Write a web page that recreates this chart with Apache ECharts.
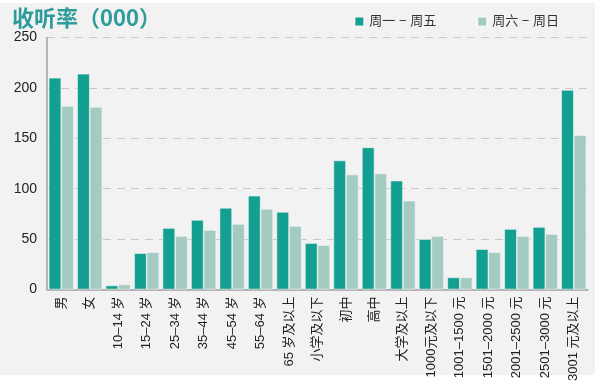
<!DOCTYPE html>
<html><head><meta charset="utf-8">
<script src="https://cdn.jsdelivr.net/npm/echarts@6/dist/echarts.min.js"></script>
<style>
html,body{margin:0;padding:0;background:#fff;}
#bg{position:absolute;left:0;top:3px;width:595px;height:372px;background:#f2f2f2;}
#c{position:absolute;left:0;top:0;width:600px;height:384px;}
</style></head>
<body><div id="bg"></div><div id="c"></div>
<script>
const categories = ['男','女','10–14 岁','15–24 岁','25–34 岁','35–44 岁','45–54 岁','55–64 岁','65 岁及以上','小学及以下','初中','高中','大学及以上','1000元及以下','1001–1500 元','1501–2000 元','2001–2500 元','2501–3000 元','3001 元及以上'];
const weekday = [210,214,4,36,61,69,81,93,77,46,128,141,108,50,12,40,60,62,198];
const weekend = [182,181,5,37,53,59,65,80,63,44,114,115,88,53,12,37,53,55,153];
const yTicks = [0,50,100,150,200,250];
const seriesNames = ['周一 − 周五','周六 − 周日'];

const chart = echarts.init(document.getElementById('c'), null, {renderer:'canvas'});
chart.setOption({
  animation:false,
  backgroundColor:'transparent',
  title:{text:'收听率（000）',left:7,top:2,textStyle:{color:'#2f9c9c',fontSize:22,fontWeight:'bold',fontFamily:'Noto Sans CJK SC'}},
  legend:{top:10,right:36,itemWidth:10,itemHeight:10,itemGap:40,icon:'rect',
    textStyle:{fontSize:13,color:'#333',fontFamily:'Liberation Sans, Noto Sans CJK SC'},data:seriesNames},
  grid:{left:47,right:12,top:37.5,bottom:94,containLabel:false},
  xAxis:{type:'category',data:categories,
    axisLine:{lineStyle:{color:'#a0a0a0',width:1.5}},axisTick:{show:false},
    axisLabel:{rotate:90,interval:0,margin:7,fontSize:13,color:'#222',fontFamily:'Liberation Sans, Noto Sans CJK SC'}},
  yAxis:{type:'value',min:0,max:250,interval:50,
    axisLine:{show:true,lineStyle:{color:'#a0a0a0',width:1.5}},axisTick:{show:false},
    axisLabel:{fontSize:14,color:'#222',margin:10,fontFamily:'Liberation Sans'},
    splitLine:{lineStyle:{color:'#c8c8c8',type:[8,6],width:1.2}}},
  series:[
    {name:seriesNames[0],type:'bar',data:weekday,barGap:'0%',barCategoryGap:'12%',
      itemStyle:{color:'#139f91',borderColor:'#f6f6f6',borderWidth:0.6}},
    {name:seriesNames[1],type:'bar',data:weekend,
      itemStyle:{color:'#a4cbc2',borderColor:'#f6f6f6',borderWidth:0.6}}
  ]
});
</script></body></html>
